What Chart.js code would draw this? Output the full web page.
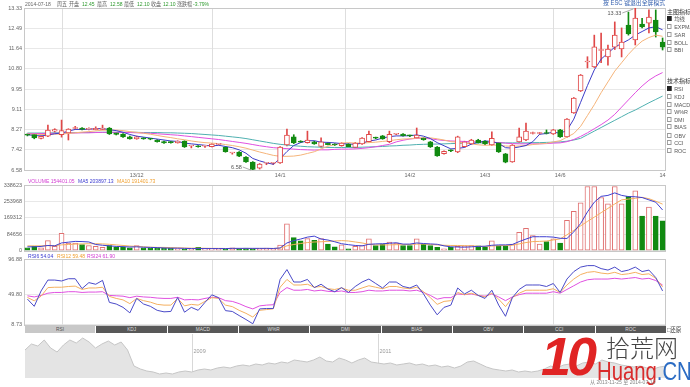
<!DOCTYPE html>
<html><head><meta charset="utf-8">
<script src="https://cdn.jsdelivr.net/npm/chart.js@4"></script>
<style>
body{margin:0;background:#fff;width:690px;height:387px;overflow:hidden;position:relative;font-family:"Liberation Sans","Noto Sans CJK SC",sans-serif;}
canvas{position:absolute;left:0;}
.t{position:absolute;font-size:6px;white-space:nowrap;line-height:6px;color:#666;font-family:"Liberation Sans","Noto Sans CJK SC",sans-serif;transform:scaleX(0.84);transform-origin:left top;}
.g{color:#2e9a2e;}
.side{position:absolute;left:667px;font-size:6px;line-height:6px;white-space:nowrap;color:#555;transform:scaleX(0.9);transform-origin:left top;}
.side .b{display:inline-block;width:3px;height:3px;border:0.6px solid #999;margin-right:3px;vertical-align:0px;background:#fff;}
.side .b.on{background:#222;border-color:#222;}
.hd{position:absolute;left:667px;font-size:6px;line-height:7px;color:#333;white-space:nowrap;font-family:"Noto Sans CJK SC",sans-serif;}
#tabs{position:absolute;left:25px;top:326px;width:641px;height:7px;display:flex;}
.tab{flex:1;background:#585858;color:#ddd;font-size:6px;line-height:7px;text-align:center;border-left:1px solid #fff;overflow:hidden;}
.tab span{display:inline-block;transform:scale(0.8);}
.tab.on{background:#c8c8c8;color:#555;border-left:none;}
</style></head><body>
<canvas id="cN" width="668" height="48" style="top:332px"></canvas>
<canvas id="cP" width="668" height="185" style="top:0px"></canvas>
<canvas id="cV" width="668" height="80" style="top:176px"></canvas>
<canvas id="cR" width="668" height="78" style="top:252px"></canvas>

<!-- header -->
<div class="t" style="left:25px;top:1px">2014-07-18</div>
<div class="t" style="left:57px;top:1px">周五</div>
<div class="t" style="left:69px;top:1px">开盘</div>
<div class="t g" style="left:82px;top:1px">12.45</div>
<div class="t" style="left:97px;top:1px">最高</div>
<div class="t g" style="left:110px;top:1px">12.58</div>
<div class="t" style="left:124px;top:1px">最低</div>
<div class="t g" style="left:137px;top:1px">12.10</div>
<div class="t" style="left:151px;top:1px">收盘</div>
<div class="t g" style="left:163px;top:1px">12.10</div>
<div class="t" style="left:177px;top:1px">涨跌幅</div>
<div class="t g" style="left:193px;top:1px">-3.79%</div>
<div class="t" style="left:603px;top:0px;font-size:6.5px;color:#3a64b0;transform:scaleX(0.9)">按 ESC 键退出全屏模式</div>

<!-- right panel -->
<div class="hd" style="top:8px">主图指标</div>
<div class="side" style="top:16px"><span class="b on"></span>均线</div>
<div class="side" style="top:24px"><span class="b"></span>EXPMA</div>
<div class="side" style="top:32px"><span class="b"></span>SAR</div>
<div class="side" style="top:40px"><span class="b"></span>BOLL</div>
<div class="side" style="top:47px"><span class="b"></span>BBI</div>
<div class="hd" style="top:77px">技术指标</div>
<div class="side" style="top:86px"><span class="b on"></span>RSI</div>
<div class="side" style="top:94px"><span class="b"></span>KDJ</div>
<div class="side" style="top:102px"><span class="b"></span>MACD</div>
<div class="side" style="top:109px"><span class="b"></span>W%R</div>
<div class="side" style="top:117px"><span class="b"></span>DMI</div>
<div class="side" style="top:124px"><span class="b"></span>BIAS</div>
<div class="side" style="top:133px"><span class="b"></span>OBV</div>
<div class="side" style="top:140px"><span class="b"></span>CCI</div>
<div class="side" style="top:148px"><span class="b"></span>ROC</div>

<!-- legends -->
<div class="t" style="left:28px;top:178px;color:#d23cd2">VOLUME 154401.05</div>
<div class="t" style="left:78px;top:178px;color:#3a3ad0">MA5 203897.13</div>
<div class="t" style="left:117px;top:178px;color:#f0a030">MA10 191401.73</div>
<div class="t" style="left:28px;top:253px;color:#3a3ad0">RSI6 54.04</div>
<div class="t" style="left:57px;top:253px;color:#f0a030">RSI12 59.48</div>
<div class="t" style="left:87px;top:253px;color:#d23cd2">RSI24 61.90</div>

<div id="tabs"><div class="tab on"><span>RSI</span></div><div class="tab"><span>KDJ</span></div><div class="tab"><span>MACD</span></div><div class="tab"><span>W%R</span></div><div class="tab"><span>DMI</span></div><div class="tab"><span>BIAS</span></div><div class="tab"><span>OBV</span></div><div class="tab"><span>CCI</span></div><div class="tab"><span>ROC</span></div></div>
<div class="t" style="left:667px;top:327px;font-size:6.5px;color:#444">□还原</div>

<!-- watermark logo -->
<div style="position:absolute;left:541px;top:327px;font:italic bold 54px 'Liberation Sans';color:#e02424;letter-spacing:-4px;line-height:58px">10</div>
<div style="position:absolute;left:606px;top:333px;font:300 24px 'Noto Sans CJK SC';color:#444;line-height:28px">拾荒网</div>
<div style="position:absolute;left:597px;top:357px;font:26px 'Liberation Sans';line-height:28px;transform:scaleX(0.78);transform-origin:left top;white-space:nowrap"><span style="color:#d92b2b">Huang</span><span style="color:#2b6cc4">.CN</span></div>
<div class="t" style="left:590px;top:379px;color:#888">从 2013-11-25 至 2014-07-10</div>

<script>
// ---------------- data ----------------
const openP = [8.06,8.06,7.90,7.99,8.20,8.05,8.12,8.31,8.33,8.27, 8.26,8.27,8.33,8.13,8.08,7.96,7.88,7.90,7.87,7.83, 7.76,7.75,7.71,7.79,7.58,7.59,7.57,7.55,7.65,7.54, 7.29,7.33,7.12,6.91,6.66,6.86,6.86,6.87,7.62,7.96, 7.76,7.72,7.75,7.56,7.70,7.66,7.59,7.66,7.52,7.67, 7.76,7.92,8.00,7.76,8.07,8.08,8.01,7.92,7.91,7.75, 7.54,7.26,7.40,7.33,7.55,7.67,7.83,7.79,7.62,7.71, 7.25,6.92,7.75,7.83,8.10,8.10,8.12,8.08,8.25,7.96, 8.96,9.87,11.08,10.87,11.56,11.29,11.70,11.62,12.62,12.00, 12.66,12.70,12.83,11.91];
const highP = [8.09,8.08,8.00,8.45,8.30,8.66,8.30,8.40,8.35,8.34, 8.38,8.45,8.35,8.15,8.10,7.99,7.99,7.93,7.90,7.85, 7.78,7.77,7.80,7.80,7.60,7.60,7.60,7.68,7.68,7.56, 7.31,7.35,7.14,6.93,6.85,6.90,6.90,7.56,8.29,8.05, 7.80,8.20,7.78,7.92,7.72,7.68,7.72,7.68,7.73,7.93, 8.20,7.95,8.02,8.20,8.10,8.10,8.03,8.33,7.93,7.77, 7.56,7.38,7.42,7.99,7.78,7.86,7.86,7.81,8.17,7.73, 7.27,7.64,8.33,8.54,8.16,8.15,8.25,8.27,8.27,8.72, 9.60,10.56,11.30,12.20,12.29,11.79,12.75,12.50,13.16,13.33, 12.90,13.25,13.25,12.08];
const lowP = [8.00,7.88,7.88,7.97,8.15,7.95,7.83,8.27,8.25,8.25, 8.25,8.25,8.06,8.04,7.94,7.86,7.86,7.86,7.84,7.74, 7.69,7.70,7.70,7.52,7.50,7.53,7.52,7.54,7.62,7.32, 7.24,7.14,6.90,6.58,6.62,6.80,6.81,6.85,7.58,7.68, 7.72,7.70,7.65,7.53,7.62,7.60,7.57,7.53,7.50,7.65, 7.74,7.88,7.86,7.72,8.05,7.99,7.97,7.90,7.82,7.52, 7.15,7.24,7.34,7.30,7.53,7.65,7.70,7.64,7.60,7.31, 6.88,6.90,7.73,7.80,8.08,8.07,8.08,8.06,7.94,7.94, 8.94,9.85,10.83,10.85,11.05,10.95,11.60,11.29,12.20,11.79, 12.50,12.29,12.12,11.58];
const closeP = [8.03,7.92,7.98,8.24,8.26,8.22,8.28,8.34,8.27,8.31, 8.32,8.33,8.08,8.06,7.96,7.88,7.96,7.88,7.86,7.76, 7.71,7.72,7.79,7.54,7.59,7.55,7.58,7.66,7.66,7.34, 7.30,7.16,6.92,6.60,6.83,6.87,6.87,7.54,8.04,7.71, 7.74,7.83,7.67,7.75,7.64,7.62,7.70,7.55,7.70,7.91, 8.07,7.91,7.88,8.07,8.08,8.01,8.00,8.04,7.84,7.54, 7.17,7.36,7.38,7.96,7.75,7.83,7.72,7.67,7.90,7.33, 6.91,7.62,7.96,8.20,8.12,8.12,8.10,8.25,7.96,8.70, 9.58,10.54,11.12,11.71,11.60,11.62,12.20,11.91,12.25,12.91, 12.54,12.95,12.33,11.70];

const ma5 = [8.05,8.02,8.00,8.04,8.09,8.12,8.20,8.27,8.27,8.28, 8.30,8.31,8.26,8.22,8.15,8.06,7.99,7.95,7.91,7.87, 7.83,7.79,7.77,7.70,7.67,7.64,7.61,7.58,7.61,7.56, 7.51,7.42,7.28,7.06,6.96,6.88,6.82,7.05,7.35,7.60, 7.72,7.80,7.80,7.74,7.73,7.71,7.68,7.66,7.65,7.70, 7.79,7.83,7.91,7.97,8.00,8.00,8.01,8.04,7.99,7.89, 7.72,7.59,7.46,7.48,7.52,7.66,7.73,7.79,7.77,7.69, 7.51,7.49,7.54,7.60,7.76,8.07,8.10,8.16,8.11,8.23, 8.70,9.40,10.10,10.75,11.20,11.45,11.70,11.85,12.00,12.20, 12.35,12.50,12.55,12.42];
const ma10 = [8.08,8.07,8.06,8.06,8.07,8.08,8.10,8.13,8.16,8.18, 8.21,8.24,8.24,8.24,8.22,8.18,8.15,8.11,8.07,8.02, 7.97,7.93,7.88,7.84,7.79,7.75,7.72,7.70,7.68,7.64, 7.60,7.55,7.49,7.41,7.33,7.26,7.19,7.15,7.15,7.16, 7.20,7.27,7.34,7.46,7.57,7.64,7.70,7.72,7.70,7.70, 7.72,7.74,7.77,7.80,7.84,7.87,7.88,7.91,7.92,7.92, 7.88,7.83,7.76,7.74,7.70,7.67,7.63,7.61,7.62,7.61, 7.58,7.57,7.58,7.60,7.64,7.67,7.69,7.75,7.80,7.95, 8.10,8.40,8.85,9.30,9.80,10.25,10.70,11.05,11.40,11.70, 11.95,12.10,12.20,12.15];
const ma20 = [8.10,8.10,8.10,8.10,8.11,8.11,8.12,8.12,8.13,8.13, 8.14,8.15,8.15,8.15,8.15,8.14,8.13,8.12,8.11,8.09, 8.07,8.05,8.03,8.00,7.97,7.94,7.91,7.88,7.85,7.81, 7.77,7.73,7.69,7.64,7.59,7.55,7.51,7.49,7.47,7.45, 7.43,7.42,7.41,7.42,7.42,7.44,7.45,7.45,7.46,7.48, 7.51,7.55,7.60,7.65,7.75,7.82,7.87,7.90,7.90,7.88, 7.84,7.81,7.79,7.78,7.77,7.76,7.75,7.74,7.74,7.72, 7.70,7.68,7.67,7.67,7.67,7.67,7.68,7.70,7.71,7.76, 7.85,7.98,8.13,8.30,8.47,8.66,8.90,9.20,9.50,9.80, 10.08,10.32,10.50,10.64];
const ma30 = [8.12,8.12,8.12,8.12,8.13,8.13,8.13,8.14,8.14,8.14, 8.15,8.15,8.15,8.15,8.15,8.15,8.15,8.14,8.14,8.14, 8.13,8.13,8.12,8.11,8.10,8.08,8.06,8.04,8.02,7.99, 7.96,7.93,7.89,7.84,7.79,7.74,7.69,7.65,7.62,7.59, 7.57,7.55,7.54,7.53,7.52,7.52,7.52,7.52,7.52,7.53, 7.54,7.55,7.56,7.58,7.59,7.61,7.62,7.64,7.65,7.66, 7.66,7.67,7.68,7.69,7.70,7.70,7.71,7.71,7.72,7.72, 7.71,7.71,7.71,7.71,7.72,7.72,7.73,7.74,7.75,7.78, 7.83,7.90,8.05,8.20,8.35,8.50,8.65,8.80,8.95,9.08, 9.23,9.38,9.52,9.66];

const volume = [15000,22000,15000,52000,22000,90000,39000,39000,32000,27000,22000,18000, 27000,18000,18000,15000,27000,15000,15000,13000,13000, 13500,10100,8450,6760,16900,8450,11800,10100,10100,15200,11800,13500,10100,10100,13500,10100, 28700,138600,67600,50700,62500,54000,62500,33800,20300,30400,10100, 22000,27000,60800,27000,33800,44000,38900,27000,27000,60800,33800,27000,16900,10100,16900,22000,25000,27000,25000,16900,50700,27000,27000,33800,94600,115000,77700,33800,47300,60800,38900,157000,203000,247000,331000,331000,274000,242000,331000,242000,280000,309000,179000,225000,179000,154401];
const volMa5 = [20000,20000,22000,27000,25000,40000,44000,48000,47000,45000,32000,28000, 25000,22000,21000,19000,20000,18000,17000,16000,14000, 13000,13000,12000,11000,11000,11000,11000,11000,11000,12000,12000,12000,12000,12000,12000,11500, 14000,40000,52000,60000,70000,75000,60000,55000,46000,36000,31000, 27000,25000,33000,35000,36000,38000,41000,34000,34000,40000,37000,35000,33000,25000,20000,19000,18000,20000,22000,23000,28000,30000,30000,32000,47000,60000,72000,72000,72000,70000,64000,63000,97000,140000,200000,250000,280000,285000,298000,285000,279000,278000,274000,262000,250000,210000];
const volMa10 = [25000,25000,25000,26000,26000,30000,32000,34000,35000,36000,36000,35000, 33000,30000,27000,24000,22000,20000,18000,17000,17000, 16000,15000,14000,13000,13000,12500,12000,12000,11500,11500,11500,11500,11500,11500,11500,11500, 13000,25000,32000,37000,42000,45000,46000,48000,50000,52000,50000, 45000,40000,33000,30000,30000,30000,31000,31000,32000,34000,34000,32000,30000,28000,27000,27000,26000,25000,23000,22000,24000,26000,27000,28000,35000,42000,47000,48000,50000,55000,61000,82000,105000,128000,151000,173000,196000,218000,241000,262000,266000,270000,275000,268000,255000,240000];

const rsi6 = [43.1,33.4,54.0,68.6,68.6,67.4,70.4,70.4,57.2,65.2, 63.0,68.2,38.7,36.5,32.0,24.6,44.0,36.5,33.4,28.0, 26.0,26.5,45.3,25.5,32.0,28.0,38.7,48.8,45.0,27.6, 26.5,21.0,15.7,10.0,29.9,30.5,30.5,69.5,82.7,66.0, 66.0,69.5,58.5,63.0,56.5,53.0,58.5,52.0, 60,66,70,64,58,66,66,60,58,62, 50,35,22,32,35,58,50,55,48,44, 55,35,20,45,56,62,62,62,60,64, 52,70,80,86,88,88,84,82,86,80, 82,86,80,82,72,54.04];
const rsi12 = [45.3,40.8,47.0,58.5,59.0,59.0,60.0,60.5,56.0,58.0, 58.0,59.0,46.7,44.0,42.0,37.0,44.0,41.0,39.0,36.0, 35.0,35.0,44.0,34.0,36.0,35.0,40.0,45.0,44.0,35.0, 33.0,28.0,24.0,19.0,28.0,29.0,30.0,59.0,69.5,62.0, 62.0,63.0,59.0,60.0,57.0,56.0,58.0,55.0, 55,58,61,59,57,60,60,58,57,59, 53,45,36,40,41,52,49,51,48,46, 51,43,33,45,51,55,55,55,55,57, 52,62,70,76,79,80,78,77,79,76, 77,79,76,77,71,59.48];
const rsi24 = [47.5,46.0,48.0,51.0,52.0,52.0,53.0,53.0,52.0,52.5, 52.5,53.0,48.0,47.5,47.0,45.0,47.0,46.0,45.5,44.5, 44.0,44.0,45.5,42.0,42.5,42.0,44.0,45.5,45.0,41.0, 40.0,37.0,33.0,29.9,34.0,35.0,35.5,52.0,58.5,55.0, 55.0,56.0,54.0,55.0,53.5,53.0,54.0,52.0, 52,53,55,54,54,55,55,55,54,55, 52,48,43,45,45,50,49,50,48,47, 50,46,41,46,49,51,51,51,51,53, 51,56,61,66,69,70,70,70,71,70, 71,72,70,71,68,61.90];

const navHistory = [28,34,32,38,30,26,33,38,35,40, 36,30,34,37,33,36,28,12,9,7, 6,4,5,4,6,7,6,8,9,8, 10,11,10,12,13,12,14,13,15,14, 16,15,18,17,16,18,21,17,16,20, 18,15,18,20,16,15,14,15,13,14, 15,13,14,12,13,11,12,10,12,16, 17,14,11,9,8,7,8,6,7,6, 7,9,12,10,13,14,12,15,16,14, 18,16,15,13,12,11,12,10,9,11, 12];
const navYears = [{i:0,t:'2007'},{i:26,t:'2009'},{i:55,t:'2011'}];

const priceTicks = [6.58,7.42,8.27,9.11,9.95,10.80,11.64,12.49,13.33];
const volTicks = [0,84656,169312,253968,338623];
const rsiTicks = [8.73,49.80,96.88];
const xTickLabels = {16:'13/12',37:'14/1',56:'14/2',67:'14/3',78:'14/6',93:'14'};
const gridIdx = [5,27,46.5,77];
const categories = closeP.map((_,i)=>String(i+1));

// ---------------- drawing ----------------
const FONT = '"Liberation Sans","DejaVu Sans",sans-serif';
const UP='#e04848', DOWN='#118a11';
const up = closeP.map((c,i)=>c>=openP[i]);
const lineCol = up.map(u=>u?UP:DOWN);
const fillCol = up.map(u=>u?'#ffffff':DOWN);
const volLine = up.map(u=>u?'#e07070':DOWN);

const framePlugin = {id:'frame', beforeDatasetsDraw(chart){
  const {ctx, chartArea:a, scales:{x}} = chart; ctx.save();
  ctx.strokeStyle='#dedede'; ctx.lineWidth=1;
  gridIdx.forEach(i=>{const px=Math.round(x.getPixelForValue(i))+0.5; ctx.beginPath(); ctx.moveTo(px,a.top); ctx.lineTo(px,a.bottom); ctx.stroke();});
  ctx.strokeStyle='#c8c8c8';
  ctx.strokeRect(Math.round(a.left)+0.5, Math.round(a.top)+0.5, Math.round(a.right-a.left)-1, Math.round(a.bottom-a.top));
  ctx.restore();
}};
const xLabelPlugin = {id:'xl', afterDraw(chart){
  const {ctx, chartArea:a, scales:{x}} = chart; ctx.save();
  ctx.font='5.5px '+FONT; ctx.fillStyle='#666'; ctx.textAlign='center'; ctx.textBaseline='top';
  Object.keys(xTickLabels).forEach(k=>{ctx.fillText(xTickLabels[k], x.getPixelForValue(+k), a.bottom+3);});
  ctx.restore();
}};
const extPlugin = {id:'ext', afterDatasetsDraw(chart){
  const {ctx, scales:{x,y}} = chart; let hi=0, lo=0;
  highP.forEach((v,i)=>{if(v>highP[hi]) hi=i;}); lowP.forEach((v,i)=>{if(v<lowP[lo]) lo=i;});
  ctx.save(); ctx.font='5.5px '+FONT; ctx.fillStyle='#555'; ctx.strokeStyle='#888'; ctx.lineWidth=0.7;
  ctx.textAlign='right'; ctx.textBaseline='middle';
  const hx=x.getPixelForValue(hi), hy=y.getPixelForValue(highP[hi]);
  ctx.fillText(highP[hi].toFixed(2), hx-14, hy+5);
  ctx.beginPath(); ctx.moveTo(hx-13,hy+5); ctx.lineTo(hx-2,hy+1); ctx.stroke();
  const lx=x.getPixelForValue(lo), ly=y.getPixelForValue(lowP[lo]);
  ctx.fillText(lowP[lo].toFixed(2), lx-11, ly-3);
  ctx.beginPath(); ctx.moveTo(lx-10,ly-3); ctx.lineTo(lx-2,ly); ctx.stroke();
  ctx.restore();
}};

function yAxis(min,max,ticks,fmt){
  return {min:min,max:max,afterFit(s){s.width=24;},afterBuildTicks(s){s.ticks=ticks.map(v=>({value:v}));},
    grid:{color:'#e8e8e8',drawTicks:false}, border:{display:false},
    ticks:{font:{family:FONT,size:5.5},color:'#666',padding:2,callback:fmt}};
}
function opts(pad,y){
  return {responsive:false,animation:false,events:[],layout:{padding:pad},
    plugins:{legend:{display:false},tooltip:{enabled:false}},
    scales:{x:{type:'category',display:false,offset:true},y:y}};
}
const ln = (d,c,o)=>({type:'line',data:d,borderColor:c,borderWidth:1,pointRadius:0,tension:0,order:o});

new Chart(document.getElementById('cP'),{
  type:'bar',
  data:{labels:categories,datasets:[
    {type:'bar',data:openP.map((o,i)=>[o,closeP[i]]),backgroundColor:fillCol,borderColor:lineCol,borderWidth:1,borderSkipped:false,barThickness:5,minBarLength:1,grouped:false,order:0},
    ln(ma5,'#3c3cc8',1), ln(ma10,'#f5b47a',2), ln(ma20,'#e050e0',3), ln(ma30,'#4fb0b0',4),
    {type:'bar',data:lowP.map((l,i)=>[l,highP[i]]),backgroundColor:lineCol,borderWidth:0,barThickness:1,grouped:false,order:6}
  ]},
  options:opts({top:8,bottom:15,left:0,right:2}, yAxis(6.58,13.33,priceTicks,v=>v.toFixed(2))),
  plugins:[framePlugin,xLabelPlugin,extPlugin]
});

new Chart(document.getElementById('cV'),{
  type:'bar',
  data:{labels:categories,datasets:[
    ln(volMa5,'#4040d0',0), ln(volMa10,'#f5b060',1),
    {type:'bar',data:volume,backgroundColor:fillCol,borderColor:volLine,borderWidth:1,borderSkipped:false,barThickness:5,order:2}
  ]},
  options:opts({top:9,bottom:4,left:0,right:2}, yAxis(0,338623,volTicks,v=>String(v))),
  plugins:[framePlugin]
});

new Chart(document.getElementById('cR'),{
  type:'line',
  data:{labels:categories,datasets:[ ln(rsi6,'#4a4ac8',0), ln(rsi12,'#f4b060',1), ln(rsi24,'#e050e0',2) ]},
  options:opts({top:7,bottom:4,left:0,right:2}, yAxis(8.73,96.88,rsiTicks,v=>v.toFixed(2))),
  plugins:[framePlugin]
});

const navPlugin = {id:'nav', beforeDatasetsDraw(chart){
  const {ctx, chartArea:a, scales:{x}} = chart; ctx.save();
  ctx.strokeStyle='#d8d8d8'; ctx.lineWidth=1; ctx.font='5.5px '+FONT; ctx.fillStyle='#999'; ctx.textBaseline='middle';
  navYears.forEach(n=>{const px=Math.round(x.getPixelForValue(n.i))+0.5;
    if(n.i>0){ctx.beginPath(); ctx.moveTo(px,a.top); ctx.lineTo(px,a.bottom); ctx.stroke();}
    ctx.fillText(n.t, px+1, a.top+17);});
  ctx.restore();
}};
new Chart(document.getElementById('cN'),{
  type:'line',
  data:{labels:navHistory.map((_,i)=>i),datasets:[{data:navHistory,fill:'origin',backgroundColor:'#e4e4e4',borderColor:'#c6c6c6',borderWidth:1,pointRadius:0,tension:0}]},
  options:{responsive:false,animation:false,events:[],layout:{padding:{left:25,right:2,top:2,bottom:2}},
    plugins:{legend:{display:false},tooltip:{enabled:false}},
    scales:{x:{display:false,offset:false},y:{display:false,min:0,max:44}}},
  plugins:[navPlugin]
});
</script>
</body></html>
